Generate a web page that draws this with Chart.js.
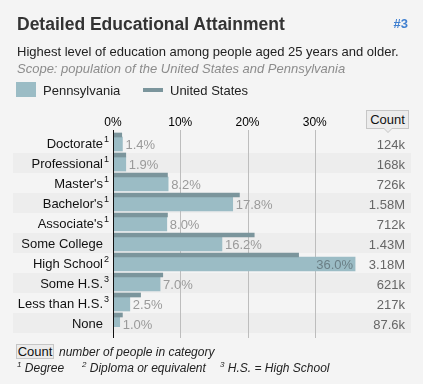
<!DOCTYPE html>
<html>
<head>
<meta charset="utf-8">
<script src="https://cdn.jsdelivr.net/npm/chart.js@4.4.1/dist/chart.umd.min.js"></script>
<style>
  body { margin: 0; background: #f4f4f4; font-family: 'Liberation Sans', Arial, sans-serif; color: #222; }
  #wrap { position: relative; width: 423px; height: 384px; overflow: hidden; }
  #chart { position: absolute; left: 0; top: 0; }
  .t { position: absolute; white-space: nowrap; line-height: 1; }
  .box { position: absolute; background: #ececec; border: 1px solid #c6c6c6; box-sizing: border-box; text-align: center; font-size: 13px; color: #111; }
</style>
</head>
<body>
<div id="wrap">
  <canvas id="chart" width="423" height="384"></canvas>
  <div class="t" style="left:17px;top:16px;font-size:17.5px;font-weight:bold;color:#333">Detailed Educational Attainment</div>
  <div class="t" style="right:15px;top:17px;font-size:13px;font-weight:bold;color:#3f7fd0">#3</div>
  <div class="t" style="left:17px;top:45px;font-size:13px">Highest level of education among people aged 25 years and older.</div>
  <div class="t" style="left:17px;top:62px;font-size:13px;font-style:italic;color:#8c8c8c">Scope: population of the United States and Pennsylvania</div>
  <div style="position:absolute;left:16px;top:82px;width:20px;height:15px;background:#9bbcc5"></div>
  <div class="t" style="left:43px;top:84px;font-size:13px">Pennsylvania</div>
  <div style="position:absolute;left:143px;top:88px;width:20px;height:4px;background:#7b959c"></div>
  <div class="t" style="left:170px;top:84px;font-size:13px">United States</div>
  <div class="box" style="left:366px;top:110px;width:43px;height:19px;line-height:17px">Count</div>
  <div style="position:absolute;left:383px;top:128px;width:0;height:0;border-left:5px solid transparent;border-right:5px solid transparent;border-top:5px solid #c6c6c6"></div>
  <div style="position:absolute;left:384px;top:128px;width:0;height:0;border-left:4px solid transparent;border-right:4px solid transparent;border-top:4px solid #ececec"></div>
  <div class="box" style="left:16px;top:344px;width:38px;height:15px;line-height:13px">Count</div>
  <div class="t" style="left:59px;top:346px;font-size:12px;font-style:italic">number of people in category</div>
  <div class="t" style="left:17px;top:361px;font-size:12px;font-style:italic"><sup style="font-size:8px">1</sup> Degree</div>
  <div class="t" style="left:82px;top:361px;font-size:12px;font-style:italic"><sup style="font-size:8px">2</sup> Diploma or equivalent</div>
  <div class="t" style="left:220px;top:361px;font-size:12px;font-style:italic"><sup style="font-size:8px">3</sup> H.S. = High School</div>
</div>
<script>
const categories = ["Doctorate", "Professional", "Master's", "Bachelor's", "Associate's", "Some College", "High School", "Some H.S.", "Less than H.S.", "None"];
const notes = ["1", "1", "1", "1", "1", "", "2", "3", "3", ""];
const paValues = [1.4, 1.9, 8.2, 17.8, 8.0, 16.2, 36.0, 7.0, 2.5, 1.0];
const usValues = [1.3, 1.9, 8.1, 18.8, 8.1, 21.0, 27.6, 7.4, 4.1, 1.4];
const counts = ["124k", "168k", "726k", "1.58M", "712k", "1.43M", "3.18M", "621k", "217k", "87.6k"];
const xTicks = [0, 10, 20, 30];

Chart.defaults.font.family = "'Liberation Sans', Arial, sans-serif";
Chart.defaults.color = "#111";

const ctx = document.getElementById("chart");

// row bands + grid lines, under the bars
const backPlugin = {
  id: "back",
  beforeDraw(chart) {
    const { ctx, scales: { x, y } } = chart;
    ctx.save();
    categories.forEach((c, i) => {
      if (i % 2 === 1) {
        const cy = y.getPixelForValue(i);
        ctx.fillStyle = "#ededed";
        ctx.fillRect(13, cy - 4, 398, 20);
      }
    });
    ctx.strokeStyle = "#bdbdbd";
    ctx.lineWidth = 1;
    xTicks.slice(1).forEach(v => {
      const px = Math.round(x.getPixelForValue(v)) + 0.5;
      ctx.beginPath();
      ctx.moveTo(px, 130);
      ctx.lineTo(px, 338);
      ctx.stroke();
    });
    ctx.restore();
  },
  afterDatasetsDraw(chart) {
    const { ctx, scales: { x, y } } = chart;
    const pa = chart.getDatasetMeta(1).data;
    ctx.save();
    // zero axis
    ctx.strokeStyle = "#111";
    ctx.lineWidth = 1;
    const x0 = Math.round(x.getPixelForValue(0)) + 0.5;
    ctx.beginPath();
    ctx.moveTo(x0, 130);
    ctx.lineTo(x0, 338);
    ctx.stroke();

    ctx.textBaseline = "middle";
    categories.forEach((c, i) => {
      const bar = pa[i];
      const cy = bar.y;
      const txt = paValues[i].toFixed(1) + "%";
      ctx.font = "13px 'Liberation Sans', Arial, sans-serif";
      if (paValues[i] > 30) {
        ctx.textAlign = "right";
        ctx.fillStyle = "#6b7f86";
        ctx.fillText(txt, bar.x - 2, cy + 1);
      } else {
        ctx.textAlign = "left";
        ctx.fillStyle = "#9a9a9a";
        ctx.fillText(txt, bar.x + 3, cy + 1);
      }
      ctx.textAlign = "right";
      ctx.fillStyle = "#666";
      ctx.fillText(counts[i], 405, cy + 1);
      if (notes[i]) {
        ctx.textAlign = "left";
        ctx.fillStyle = "#111";
        ctx.font = "9px 'Liberation Sans', Arial, sans-serif";
        ctx.fillText(notes[i], 104, cy - 4);
      }
    });
    ctx.restore();
  }
};

new Chart(ctx, {
  type: "bar",
  data: {
    labels: categories,
    datasets: [
      {
        label: "United States",
        data: usValues,
        backgroundColor: "#7b959c",
        barThickness: 4,
      },
      {
        label: "Pennsylvania",
        data: paValues,
        backgroundColor: "#9bbcc5",
        barThickness: 14,
      },
    ],
  },
  options: {
    indexAxis: "y",
    responsive: false,
    animation: false,
    devicePixelRatio: 1,
    layout: { padding: { left: 0, right: 41, top: 0, bottom: 57 } },
    plugins: { legend: { display: false }, tooltip: { enabled: false } },
    scales: {
      x: {
        position: "top",
        min: 0,
        max: 40,
        grid: { display: false, drawTicks: false },
        border: { display: false },
        afterFit: s => { s.height = 127; },
        ticks: {
          stepSize: 10,
          padding: -3,
          font: { size: 12 },
          color: "#000",
          callback: v => (xTicks.includes(v) ? v + "%" : ""),
        },
      },
      y: {
        grid: { display: false, drawTicks: false },
        border: { display: false },
        afterFit: s => { s.width = 113; },
        ticks: {
          autoSkip: false,
          padding: 10,
          labelOffset: 7,
          font: { size: 13 },
          color: "#111",
        },
      },
    },
  },
  plugins: [backPlugin],
});
</script>
</body>
</html>
